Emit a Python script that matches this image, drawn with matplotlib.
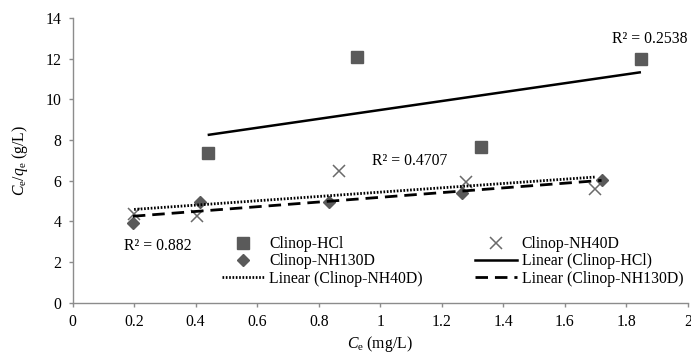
import numpy as np
import matplotlib
matplotlib.use("Agg")
import matplotlib.pyplot as plt
from matplotlib.lines import Line2D

plt.rcParams["font.family"] = ["Liberation Serif", "DejaVu Serif"]
plt.rcParams["mathtext.fontset"] = "custom"
plt.rcParams["mathtext.rm"] = "Liberation Serif"
plt.rcParams["mathtext.it"] = "Liberation Serif:italic"

# Equilibrium data: Ce (mg/L) vs Ce/qe (g/L)
hcl_x = [0.439, 0.924, 1.327, 1.847]
hcl_y = [7.37, 12.08, 7.66, 11.98]

nh40_x = [0.200, 0.405, 0.866, 1.280, 1.698]
nh40_y = [4.35, 4.24, 6.50, 5.93, 5.58]

nh130_x = [0.196, 0.415, 0.834, 1.264, 1.719]
nh130_y = [3.94, 4.93, 4.95, 5.39, 6.04]

r2_labels = ["R² = 0.2538", "R² = 0.4707", "R² = 0.882"]

x_ticks = [0, 0.2, 0.4, 0.6, 0.8, 1, 1.2, 1.4, 1.6, 1.8, 2]
x_ticklabels = ["0", "0.2", "0.4", "0.6", "0.8", "1", "1.2", "1.4", "1.6", "1.8", "2"]
y_ticks = [0, 2, 4, 6, 8, 10, 12, 14]

marker_color = "#5a5a5a"
fs = 11.3

fig = plt.figure(figsize=(6.91, 3.53), dpi=100)
ax = fig.add_axes([0.105, 0.1425, 0.8907, 0.8065])


def trend(x, y):
    x = np.asarray(x)
    y = np.asarray(y)
    k, b = np.polyfit(x, y, 1)
    xs = np.array([x.min(), x.max()])
    return xs, k * xs + b


# scatter series
ax.plot(hcl_x, hcl_y, ls="none", marker="s", ms=8, color=marker_color, mec=marker_color)
ax.plot(nh40_x, nh40_y, ls="none", marker="x", ms=9, mew=1.1, color="#6a6a6a")
ax.plot(nh130_x, nh130_y, ls="none", marker="D", ms=6.5, color=marker_color, mec=marker_color)

# linear trendlines
tx, ty = trend(hcl_x, hcl_y)
ax.plot(tx, ty, color="black", lw=1.8, solid_capstyle="butt")
tx, ty = trend(nh40_x, nh40_y)
ax.plot(tx, ty, color="black", lw=2.0, ls=(0, (0.6, 0.6)))
tx, ty = trend(nh130_x, nh130_y)
ax.plot(tx, ty, color="black", lw=2.0, ls=(0, (4.5, 2.5)))

ax.text(1.877, 12.97, r2_labels[0], ha="center", va="center", fontsize=fs)
ax.text(1.096, 6.97, r2_labels[1], ha="center", va="center", fontsize=fs)
ax.text(0.277, 2.80, r2_labels[2], ha="center", va="center", fontsize=fs)

ax.set_xlim(0, 2)
ax.set_ylim(0, 14)
ax.set_xticks(x_ticks)
ax.set_xticklabels(x_ticklabels)
ax.set_yticks(y_ticks)
for s in ("top", "right"):
    ax.spines[s].set_visible(False)
for s in ("left", "bottom"):
    ax.spines[s].set_color("#8c8c8c")
    ax.spines[s].set_linewidth(1.0)
ax.tick_params(axis="both", direction="out", length=3, width=1.0, color="#8c8c8c",
               labelsize=fs, pad=5)

ax.set_xlabel(r"$C_\mathrm{e}$ (mg/L)", fontsize=fs, labelpad=3)
ax.set_ylabel(r"$C_\mathrm{e}/q_\mathrm{e}$ (g/L)", fontsize=fs, labelpad=11)

handles = [
    Line2D([], [], ls="none", marker="s", ms=8, color=marker_color),
    Line2D([], [], ls="none", marker="D", ms=6.5, color=marker_color),
    Line2D([], [], color="black", lw=2.0, ls=(0, (0.6, 0.6))),
    Line2D([], [], ls="none", marker="x", ms=9, mew=1.1, color="#6a6a6a"),
    Line2D([], [], color="black", lw=1.8),
    Line2D([], [], color="black", lw=2.0, ls=(0, (4.5, 2.5))),
]
labels = ["Clinop-HCl", "Clinop-NH130D", "Linear (Clinop-NH40D)",
          "Clinop-NH40D", "Linear (Clinop-HCl)", "Linear (Clinop-NH130D)"]
fig.legend(handles, labels, ncol=2, frameon=False, fontsize=fs,
           loc="upper left", bbox_to_anchor=(222 / 691, 1 - 236 / 353),
           borderaxespad=0, borderpad=0, handlelength=2.7, handletextpad=0.3,
           labelspacing=0.08, columnspacing=3.3)

fig.savefig("out.png", dpi=100)
